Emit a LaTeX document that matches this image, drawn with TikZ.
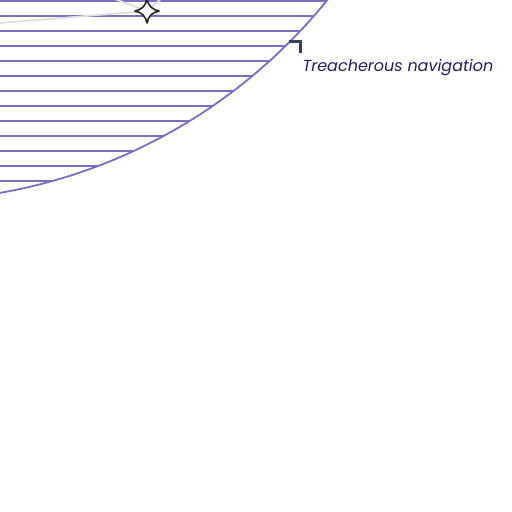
\documentclass[tikz,border=0pt]{standalone}
\usepackage{fontspec}
\newfontfamily\labfont{Poppins}
\definecolor{hatch}{HTML}{7E6CC2}
\definecolor{navy}{HTML}{231F5E}
\definecolor{markc}{HTML}{3B3F5E}
\definecolor{ghost}{HTML}{DDDDDD}
\tikzset{
  hatchline/.style={draw=hatch, line width=2pt},
  rimline/.style={draw=hatch, line width=1.8pt},
  guideline/.style={draw=ghost, line width=1.8pt},
  starshape/.style={draw=black!85, fill=white, line width=1.6pt, line join=round},
  cornermark/.style={draw=markc, line width=2.2pt},
  labeltext/.style={text=navy, font=\labfont\itshape\fontsize{16}{19}\selectfont, inner sep=0pt, anchor=base west}
}
\begin{document}
\begin{tikzpicture}[x=1pt,y=-1pt]
\useasboundingbox (0,0) rectangle (512,512);
% hatched region
\begin{scope}
  \clip (-94,-341) circle [radius=542];
  \foreach \yy in {1,16,...,181} {
    \draw[hatchline] (0,\yy) -- (512,\yy);
  }
\end{scope}
\draw[rimline] (-94,-341) circle [radius=542];
% faint guide lines
\coordinate (s) at (147,11);
\coordinate (g1) at (0,23);
\coordinate (g2) at (112,-2);
\coordinate (g3) at (162,-2);
\draw[guideline] (g1) -- (s);
\draw[guideline] (g2) -- (s);
\draw[guideline] (g3) -- (s);
% star
\draw[starshape] (147,-1) .. controls (148.5,6) and (152,9.5) .. (159,11)
  .. controls (152,12.5) and (148.5,16) .. (147,23)
  .. controls (145.5,16) and (142,12.5) .. (135,11)
  .. controls (142,9.5) and (145.5,6) .. cycle;
\node[coordinate] (star) at (147,11) {};
% label and its corner mark
\node[labeltext] (lbl) at (302.5,71) {Treacherous navigation};
\coordinate (m1) at (289,41.5);
\coordinate (m2) at (300.5,41.5);
\coordinate (m3) at (300.5,53);
\draw[cornermark] (m1) -- (m2) -- (m3);
\end{tikzpicture}
\end{document}
